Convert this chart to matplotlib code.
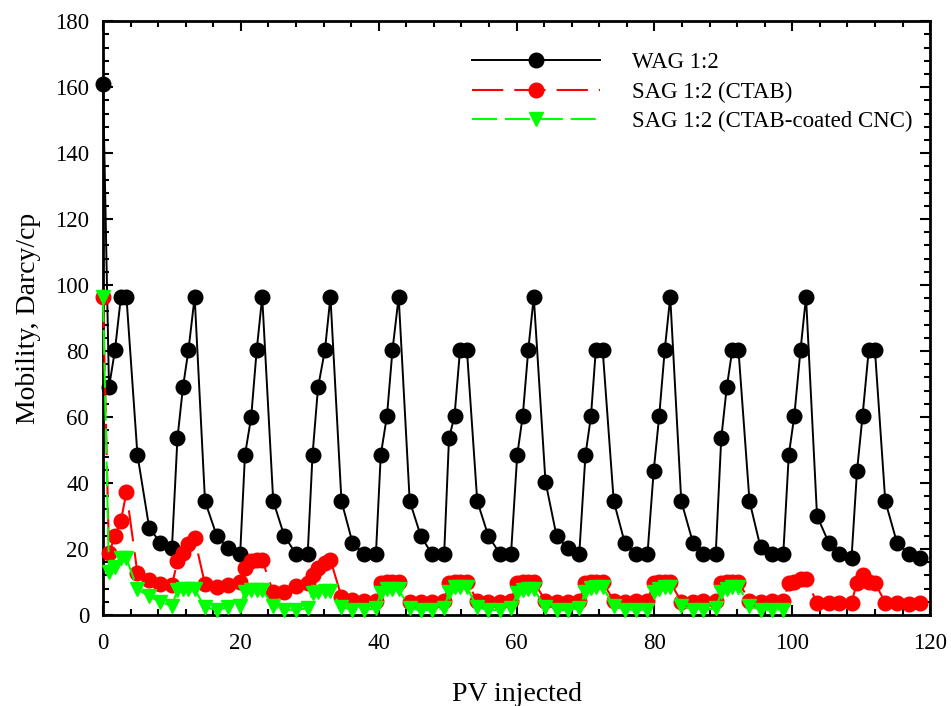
import matplotlib
matplotlib.use('Agg')
import matplotlib.pyplot as plt
from matplotlib.ticker import MultipleLocator

# PV injected (shared by all series)
pv = [0, 0.87, 1.74, 2.6, 3.4, 5.0, 6.7, 8.3, 10.0,
      10.8, 11.6, 12.4, 13.3, 14.8, 16.5, 18.1, 19.9,
      20.6, 21.5, 22.3, 23.1, 24.7, 26.3, 28.0, 29.7,
      30.4, 31.2, 32.2, 33.0, 34.6, 36.2, 37.8, 39.6,
      40.3, 41.2, 42.0, 42.9, 44.5, 46.1, 47.7, 49.5,
      50.2, 51.0, 51.8, 52.8, 54.3, 55.9, 57.6, 59.2,
      60.1, 60.9, 61.7, 62.5, 64.2, 65.8, 67.4, 69.1,
      70.0, 70.8, 71.5, 72.5, 74.1, 75.7, 77.3, 79.0,
      79.9, 80.7, 81.5, 82.3, 83.9, 85.6, 87.1, 88.9,
      89.7, 90.5, 91.3, 92.2, 93.8, 95.4, 97.0, 98.7,
      99.5, 100.3, 101.2, 102.0, 103.6, 105.3, 106.8, 108.6,
      109.4, 110.2, 111.1, 112.0, 113.5, 115.2, 116.9, 118.5]

wag = [161,
       69, 80.3, 96.4, 96.4, 48.5, 26.5, 21.9, 20.2,
       53.5, 69, 80.3, 96.4, 34.5, 24, 20.2, 18.5,
       48.5, 60, 80.3, 96.4, 34.5, 24, 18.5, 18.5,
       48.5, 69, 80.3, 96.4, 34.5, 21.9, 18.5, 18.5,
       48.5, 60.3, 80.3, 96.4, 34.5, 24, 18.5, 18.5,
       53.5, 60.3, 80.3, 80.3, 34.5, 24, 18.5, 18.5,
       48.5, 60.3, 80.3, 96.4, 40.4, 24, 20.2, 18.5,
       48.5, 60.3, 80.3, 80.3, 34.5, 21.9, 18.5, 18.5,
       43.7, 60.3, 80.3, 96.4, 34.5, 21.9, 18.5, 18.5,
       53.5, 69, 80.3, 80.3, 34.5, 20.5, 18.5, 18.5,
       48.5, 60.3, 80.3, 96.4, 30, 21.9, 18.5, 17.2,
       43.7, 60.3, 80.3, 80.3, 34.5, 21.9, 18.5, 17.2]

sag_ctab = [96.4,
            18.7, 24, 28.5, 37.2, 12.6, 10.6, 9.3, 9.1,
            16.2, 18.7, 21.4, 23.2, 9.3, 8.4, 9.1, 9.9,
            14.1, 16.4, 16.7, 16.7, 6.8, 7, 8.9, 9.6,
            12, 14.3, 15.7, 16.7, 5.5, 4.5, 4.2, 4.2,
            9.8, 10, 10, 10, 4, 4, 4, 4.3,
            9.8, 10, 10, 10, 4.3, 4, 4, 4.3,
            9.8, 10, 10, 10, 4.3, 4, 4, 4.3,
            9.8, 10, 10, 10, 4.3, 4, 4.2, 4.2,
            9.8, 10, 10, 10, 4, 4, 4.2, 4.3,
            9.8, 10, 10, 10, 4.3, 4, 4.2, 4.2,
            9.6, 10, 10.8, 10.8, 3.7, 3.5, 3.7, 3.7,
            9.8, 12.1, 10, 9.8, 3.7, 3.7, 3.3, 3.7]

sag_cnc = [96.4,
           13.1, 14.6, 17.2, 17.2, 7.8, 5.6, 4, 2.7,
           7.6, 7.8, 7.8, 7.8, 2.3, 1.6, 2.3, 2.7,
           7.1, 7.6, 7.6, 7.6, 2.7, 1.5, 1.6, 2.0,
           6.6, 7.1, 7.4, 7.4, 2.5, 1.5, 1.5, 2.0,
           6.6, 7.8, 7.8, 7.8, 2, 1.5, 1.5, 2,
           7.1, 8.4, 8.4, 8.4, 2.3, 1.5, 1.5, 2,
           6.6, 7.6, 7.8, 7.8, 2.3, 1.5, 1.5, 2,
           7.1, 8.1, 8.4, 8.6, 2.7, 1.6, 1.5, 1.6,
           6.8, 7.8, 8.4, 8.6, 2.7, 1.6, 1.5, 2,
           6.8, 7.8, 8.4, 8.6, 2.7, 1.6, 1.5, 1.6]

labels = ['WAG 1:2', 'SAG 1:2 (CTAB)', 'SAG 1:2 (CTAB-coated CNC)']

plt.rcParams['font.family'] = 'Liberation Serif'

fig = plt.figure(figsize=(9.51, 7.06), dpi=100)
ax = fig.add_axes([0.1083, 0.129, 0.8697, 0.841])

ax.plot(pv, wag, color='black', lw=1.4, marker='o', ms=10.5,
        label=labels[0], clip_on=False, zorder=3)
ax.plot(pv, sag_ctab, color='red', lw=1.5, dashes=(15, 5.3), marker='o', ms=10.5,
        label=labels[1], clip_on=False, zorder=4)
ax.plot(pv[:len(sag_cnc)], sag_cnc, color='#00ff00', lw=1.5, dashes=(12, 3.8),
        marker='v', ms=10.5, label=labels[2], clip_on=False, zorder=5)

ax.set_xlim(0, 120)
ax.set_ylim(0, 180)
ax.xaxis.set_major_locator(MultipleLocator(20))
ax.xaxis.set_minor_locator(MultipleLocator(4))
ax.yaxis.set_major_locator(MultipleLocator(20))
ax.yaxis.set_minor_locator(MultipleLocator(4))
ax.tick_params(which='both', direction='in', top=True, right=True,
               labelsize=16.5, width=1.5)
ax.tick_params(which='major', length=7, pad=10)
ax.tick_params(axis='x', which='major', pad=13)
ax.tick_params(which='minor', length=4.5)
for s in ax.spines.values():
    s.set_linewidth(2)

ax.set_xlabel('PV injected', fontsize=20, labelpad=20)
ax.set_ylabel('Mobility, Darcy/cp', fontsize=20, labelpad=10)

ax.legend(loc='upper left', bbox_to_anchor=(0.432, 0.968), frameon=False,
          fontsize=16.5, numpoints=1, handlelength=5.6, handletextpad=1.4,
          labelspacing=0.38, borderpad=0)

fig.savefig('out.png', dpi=100, facecolor='white')
